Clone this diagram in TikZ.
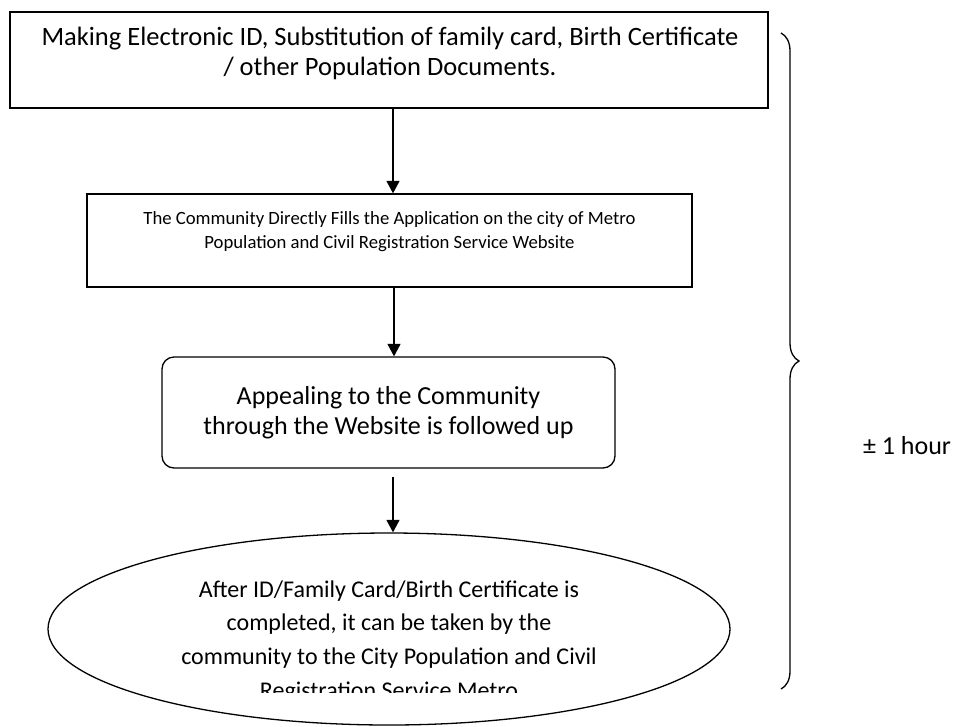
\documentclass[tikz,border=0pt]{standalone}
\usepackage{fontspec}
\setmainfont{Carlito}
\usetikzlibrary{positioning,arrows.meta,shapes.geometric,decorations.pathreplacing}

\begin{document}
\begin{tikzpicture}[
  x=1pt, y=-1pt,
  >={Triangle[length=12.5pt,width=13pt]},
  every node/.style={align=center, inner sep=0pt},
  stepbox/.style={draw, line width=1.3pt, rectangle},
  roundbox/.style={draw, line width=1.3pt, rectangle, rounded corners=12pt},
  endoval/.style={draw, line width=1.3pt, ellipse},
  flow/.style={->, line width=1.3pt},
]
\useasboundingbox (0,0) rectangle (960,726);

% Steps
\node[stepbox, minimum width=758pt, minimum height=96pt] (make) at (389,60) {};
\node[font=\fontsize{26.5}{30}\selectfont] (maketext) at (390,53)
  {Making Electronic ID, Substitution of family card, Birth Certificate\\
   / other Population Documents.};
\node[stepbox, minimum width=605pt, minimum height=93pt] (fill) at (389.5,240.5) {};
\node[font=\fontsize{18.7}{24.5}\selectfont] (filltext) at (389.5,231.5)
  {The Community Directly Fills the Application on the city of Metro\\
   Population and Civil Registration Service Website};
\node[roundbox, minimum width=453pt, minimum height=111pt,
  font=\fontsize{26}{30}\selectfont] (appeal) at (388.5,412.5)
  {Appealing to the Community\\ through the Website is followed up};
\node[endoval, minimum width=682pt, minimum height=192pt] (done) at (389,629) {};

% Text of the oval, cut off at the bottom
\begin{scope}
  \clip (0,540) rectangle (960,692);
  \node[font=\fontsize{24}{33.7}\selectfont] (donetext) at (389,641.5)
    {After ID/Family Card/Birth Certificate is\\
     completed, it can be taken by the\\
     community to the City Population and Civil\\
     Registration Service Metro};
\end{scope}

% Connectors
\draw[flow] (make.south -| 393,0) -- (fill.north -| 393,0);
\draw[flow] (fill.south -| 394,0) -- (appeal.north -| 394,0);
\draw[flow, shorten <=8pt] (appeal.south -| 393,0) -- (done.north -| 393,0);

% Time span
\coordinate (bracetop) at (781,33);
\coordinate (bracebot) at (781,689);
\draw[line width=1.3pt, decorate,
  decoration={brace, amplitude=18pt}] (bracetop) -- (bracebot);
\node[font=\fontsize{26}{30}\selectfont] (hour) at (907,446) {± 1 hour};
\end{tikzpicture}
\end{document}
